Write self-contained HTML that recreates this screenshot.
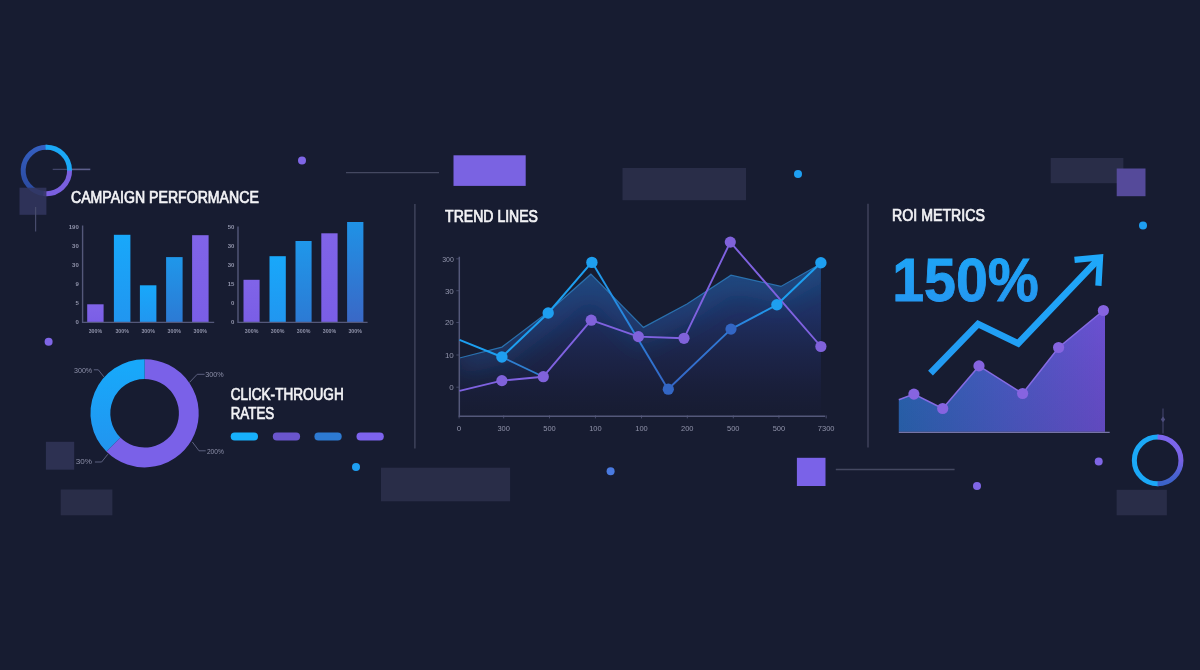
<!DOCTYPE html>
<html lang="en"><head><meta charset="utf-8"><title>Marketing Analytics Dashboard</title>
<style>
html,body{margin:0;padding:0;background:#171c31;}
body{width:1200px;height:670px;overflow:hidden;position:relative;}
svg{display:block;position:absolute;left:0;top:0;filter:blur(.45px)}
text{font-family:"Liberation Sans",Arial,sans-serif}
.t{fill:#f3f3f6;font-size:15.8px;stroke:#f3f3f6;stroke-width:.7px;paint-order:stroke}
.s{fill:#9093aa;font-size:6px;font-weight:bold}
.m{fill:#9093aa;font-size:8px;}
.d{fill:#8d90a9;font-size:7.9px;}
</style></head><body>
<svg width="1200" height="670" viewBox="0 0 1200 670">
<defs>
<linearGradient id="gc" x1="0" y1="0" x2="0" y2="1"><stop offset="0" stop-color="#18a8fa"/><stop offset="1" stop-color="#2196f0"/></linearGradient>
<linearGradient id="gb" x1="0" y1="0" x2="0" y2="1"><stop offset="0" stop-color="#1f97ea"/><stop offset="1" stop-color="#2c7ad4"/></linearGradient>
<linearGradient id="gb2" x1="0" y1="0" x2="0" y2="1"><stop offset="0" stop-color="#1f92e6"/><stop offset="1" stop-color="#3a68c6"/></linearGradient>
<linearGradient id="gp" x1="0" y1="0" x2="0" y2="1"><stop offset="0" stop-color="#8064e8"/><stop offset="1" stop-color="#7a5ee6"/></linearGradient>
<linearGradient id="garea" gradientUnits="userSpaceOnUse" x1="0" y1="262" x2="0" y2="416"><stop offset="0" stop-color="#1e4a82" stop-opacity=".9"/><stop offset=".35" stop-color="#20336c" stop-opacity=".8"/><stop offset=".7" stop-color="#1e2650" stop-opacity=".55"/><stop offset="1" stop-color="#1b1f40" stop-opacity=".08"/></linearGradient>
<filter id="fglow" x="-10%" y="-40%" width="120%" height="180%"><feGaussianBlur stdDeviation="11"/></filter>
<linearGradient id="groi" x1="0" y1="0" x2="1" y2="0"><stop offset="0" stop-color="#2a66b4"/><stop offset=".5" stop-color="#4a5cc6"/><stop offset="1" stop-color="#6c50d2"/></linearGradient>
<linearGradient id="groid" x1="0" y1="0" x2="0" y2="1"><stop offset="0" stop-color="#000" stop-opacity="0"/><stop offset="1" stop-color="#101430" stop-opacity=".12"/></linearGradient>
<linearGradient id="g150" x1="0" y1="0" x2="0" y2="1"><stop offset="0" stop-color="#1ca8f8"/><stop offset="1" stop-color="#2694f0"/></linearGradient>
<linearGradient id="garr" gradientUnits="userSpaceOnUse" x1="930" y1="373" x2="1103" y2="256"><stop offset="0" stop-color="#229af2"/><stop offset="1" stop-color="#1fa8fa"/></linearGradient>
<linearGradient id="gl1" gradientUnits="userSpaceOnUse" x1="592" y1="262" x2="668" y2="389"><stop offset="0" stop-color="#1d9ff0"/><stop offset="1" stop-color="#3566c6"/></linearGradient>
<linearGradient id="gl2" gradientUnits="userSpaceOnUse" x1="668" y1="389" x2="777" y2="305"><stop offset="0" stop-color="#3566c6"/><stop offset=".6" stop-color="#2f7ad6"/><stop offset="1" stop-color="#1d9ff0"/></linearGradient>
<linearGradient id="gring2" gradientUnits="userSpaceOnUse" x1="0" y1="437" x2="0" y2="484"><stop offset="0" stop-color="#7d66ee"/><stop offset=".5" stop-color="#7862e4"/><stop offset=".8" stop-color="#4a62d0"/><stop offset="1" stop-color="#3a62c8"/></linearGradient>
<linearGradient id="gring1" gradientUnits="userSpaceOnUse" x1="30" y1="195" x2="40" y2="146"><stop offset="0" stop-color="#2a489c"/><stop offset="1" stop-color="#3560c2"/></linearGradient>
</defs>
<rect width="1200" height="670" fill="#171c31"/>

<g>
<rect x="453.5" y="155.3" width="72.2" height="30.6" fill="#7a63e2"/>
<rect x="622.5" y="168" width="123.5" height="32.2" fill="#292d48"/>
<rect x="1050.7" y="158" width="72.7" height="25.2" fill="#292d48"/>
<rect x="1116.7" y="168.5" width="28.8" height="27.7" fill="#554a9a"/>
<rect x="1116.6" y="489.8" width="50.3" height="25.5" fill="#292d48"/>
<rect x="796.9" y="457.8" width="28.6" height="28.2" fill="#7a62e8"/>
<rect x="381" y="467.7" width="129.1" height="33.6" fill="#292d48"/>
<rect x="60.7" y="489.5" width="51.7" height="25.8" fill="#292d48"/>
<rect x="45.9" y="441.8" width="28.3" height="27.9" fill="#2d3152"/>
</g>
<g stroke="#444861" stroke-width="1.3" fill="none">
<path d="M346,172.6H439"/>
<path d="M835.8,469.5H954.6"/>
<path d="M52.7,169.4H68" stroke="#41456a"/><path d="M68,169.4H90.3" stroke="#5d5f8c" stroke-width="1.6"/>
<path d="M414.9,204V448.4"/>
<path d="M868,203.8V447.5"/>
<path d="M1163,408.4V433.4" stroke="#3c3f63"/>
</g>
<path d="M1163,416.6l2.2,2.8l-2.2,2.8l-2.2,-2.8z" fill="#4c4c7c"/>
<circle cx="302" cy="160.5" r="4" fill="#7f66e6"/>
<circle cx="48.6" cy="341.8" r="4" fill="#7f66e6"/>
<circle cx="798" cy="174" r="4" fill="#1e9ff2"/>
<circle cx="1143" cy="225.4" r="4" fill="#1e9ff2"/>
<circle cx="356" cy="466.9" r="4" fill="#1e9ff2"/>
<circle cx="610.6" cy="471.3" r="4" fill="#4a7ae0"/>
<circle cx="977" cy="486" r="4" fill="#7f66e6"/>
<circle cx="1098.7" cy="461.4" r="4" fill="#7f66e6"/>
<g fill="none" stroke-width="5">
<path d="M44.38,193.61A23.2,23.2 0 0 1 47.21,147.31" stroke="url(#gring1)"/>
<path d="M69.59,169.69A23.2,23.2 0 0 1 43.57,193.53" stroke="#7a60e0"/>
<path d="M45.59,147.31A23.2,23.2 0 0 1 69.60,170.50" stroke="#1ba8f6"/>
</g>
<rect x="19.5" y="187.7" width="26.9" height="27.1" fill="#32365e" fill-opacity=".86"/><path d="M35.6,207V231.6" stroke="#474b6c" stroke-width="1.2"/>
<g fill="none" stroke-width="5">
<path d="M1158.42,483.79A23.4,23.4 0 1 1 1158.42,437.01" stroke="#1ba8f6"/>
<path d="M1157.60,437.00A23.4,23.4 0 0 1 1157.60,483.80" stroke="url(#gring2)"/>
</g>
<text class="t" x="71" y="203.2" textLength="187.8" lengthAdjust="spacingAndGlyphs">CAMPAIGN PERFORMANCE</text>
<text class="t" x="230.7" y="400.2" textLength="113" lengthAdjust="spacingAndGlyphs">CLICK-THROUGH</text>
<text class="t" x="230.7" y="419.3" textLength="43.6" lengthAdjust="spacingAndGlyphs">RATES</text>
<text class="t" x="445.1" y="221.5" textLength="92.9" lengthAdjust="spacingAndGlyphs">TREND LINES</text>
<text class="t" x="892.1" y="221.4" textLength="92.8" lengthAdjust="spacingAndGlyphs">ROI METRICS</text>
<rect x="87.2" y="304.3" width="16.4" height="17.8" fill="url(#gp)"/>
<rect x="113.9" y="234.8" width="16.5" height="87.3" fill="url(#gc)"/>
<rect x="139.9" y="285.3" width="16.5" height="36.8" fill="url(#gc)"/>
<rect x="166.1" y="257.1" width="16.5" height="65.0" fill="url(#gb)"/>
<rect x="192.1" y="235.2" width="16.5" height="86.9" fill="url(#gp)"/>
<path d="M82.60000000000001,225.5V322.40000000000003H214.2" fill="none" stroke="#54587a" stroke-width="1.4"/>
<text class="s" x="78.8" y="229.2" text-anchor="end">190</text>
<text class="s" x="78.8" y="247.79999999999998" text-anchor="end">30</text>
<text class="s" x="78.8" y="266.7" text-anchor="end">30</text>
<text class="s" x="78.8" y="285.7" text-anchor="end">9</text>
<text class="s" x="78.8" y="304.59999999999997" text-anchor="end">5</text>
<text class="s" x="78.8" y="323.5" text-anchor="end">0</text>
<text class="s" x="95.4" y="332.8" text-anchor="middle" textLength="13.5" lengthAdjust="spacingAndGlyphs">300%</text>
<text class="s" x="122.2" y="332.8" text-anchor="middle" textLength="13.5" lengthAdjust="spacingAndGlyphs">300%</text>
<text class="s" x="148.2" y="332.8" text-anchor="middle" textLength="13.5" lengthAdjust="spacingAndGlyphs">300%</text>
<text class="s" x="174.3" y="332.8" text-anchor="middle" textLength="13.5" lengthAdjust="spacingAndGlyphs">300%</text>
<text class="s" x="200.3" y="332.8" text-anchor="middle" textLength="13.5" lengthAdjust="spacingAndGlyphs">300%</text>
<rect x="243.5" y="279.8" width="16.1" height="42.3" fill="url(#gp)"/>
<rect x="269.5" y="256.2" width="16.3" height="65.9" fill="url(#gc)"/>
<rect x="295.5" y="241.0" width="16.1" height="81.1" fill="url(#gb)"/>
<rect x="321.3" y="233.3" width="16.3" height="88.8" fill="url(#gp)"/>
<rect x="347.1" y="222.0" width="16.3" height="100.1" fill="url(#gb2)"/>
<path d="M238.0,226.5V322.40000000000003H367.6" fill="none" stroke="#54587a" stroke-width="1.4"/>
<text class="s" x="234.4" y="229.2" text-anchor="end">50</text>
<text class="s" x="234.4" y="247.79999999999998" text-anchor="end">30</text>
<text class="s" x="234.4" y="266.7" text-anchor="end">30</text>
<text class="s" x="234.4" y="285.7" text-anchor="end">15</text>
<text class="s" x="234.4" y="304.59999999999997" text-anchor="end">0</text>
<text class="s" x="234.4" y="323.5" text-anchor="end">0</text>
<text class="s" x="251.6" y="332.8" text-anchor="middle" textLength="13.5" lengthAdjust="spacingAndGlyphs">300%</text>
<text class="s" x="277.6" y="332.8" text-anchor="middle" textLength="13.5" lengthAdjust="spacingAndGlyphs">300%</text>
<text class="s" x="303.6" y="332.8" text-anchor="middle" textLength="13.5" lengthAdjust="spacingAndGlyphs">300%</text>
<text class="s" x="329.5" y="332.8" text-anchor="middle" textLength="13.5" lengthAdjust="spacingAndGlyphs">300%</text>
<text class="s" x="355.2" y="332.8" text-anchor="middle" textLength="13.5" lengthAdjust="spacingAndGlyphs">300%</text>
<g fill="none" stroke-width="19.8">
<path d="M144.60,369.10A44.2,44.2 0 1 1 113.35,444.55" stroke="#7a61e8"/>
<path d="M113.35,444.55A44.2,44.2 0 0 1 144.60,369.10" stroke="url(#gc)"/>
</g>
<g fill="none" stroke="#5d6180" stroke-width="1">
<path d="M93.8,369.8H98.3L103.9,376.9"/>
<path d="M204.6,374.3H197.2L189.4,382.5"/>
<path d="M205.7,450.8H199L192.3,441.9"/>
<path d="M94.9,462H101.6L107.9,454.2"/>
</g>
<text class="d" x="74" y="372.9" textLength="18.2" lengthAdjust="spacingAndGlyphs">300%</text>
<text class="d" x="205.3" y="377.3" textLength="18.4" lengthAdjust="spacingAndGlyphs">300%</text>
<text class="d" x="206.9" y="453.9" textLength="17" lengthAdjust="spacingAndGlyphs">200%</text>
<text class="d" x="75.8" y="463.9" textLength="16.2" lengthAdjust="spacingAndGlyphs">30%</text>
<rect x="230.7" y="432.5" width="27.3" height="8" rx="4" fill="#17b0fb"/>
<rect x="272.8" y="432.5" width="27.3" height="8" rx="4" fill="#6a55cc"/>
<rect x="314.4" y="432.5" width="27.3" height="8" rx="4" fill="#2d7ad2"/>
<rect x="356.5" y="432.5" width="27.3" height="8" rx="4" fill="#7d63ee"/>
<clipPath id="carea"><path d="M459.5,358L501.9,347.1L548.2,312L590.9,274.2L643.4,327.4L687,304L731,275.2L780.9,286.4L820.9,263.7L820.9,415.4L459.5,415.4Z"/></clipPath>
<path d="M459.5,358L501.9,347.1L548.2,312L590.9,274.2L643.4,327.4L687,304L731,275.2L780.9,286.4L820.9,263.7L820.9,415.4L459.5,415.4Z" fill="url(#garea)"/>
<g clip-path="url(#carea)"><path d="M459.5,358L501.9,347.1L548.2,312L590.9,274.2L643.4,327.4L687,304L731,275.2L780.9,286.4L820.9,263.7" fill="none" stroke="#2062a2" stroke-width="34" stroke-opacity=".26" filter="url(#fglow)"/></g>
<path d="M459.5,358L501.9,347.1L548.2,312L590.9,274.2L643.4,327.4L687,304L731,275.2L780.9,286.4L820.9,263.7" fill="none" stroke="#2b78b8" stroke-width="1.2" stroke-opacity=".9"/>
<path d="M459.3,256.7V416.2H825.2" fill="none" stroke="#54587a" stroke-width="1.5"/>
<text class="m" x="453.8" y="261.7" text-anchor="end" textLength="11.6" lengthAdjust="spacingAndGlyphs">300</text>
<path d="M459.3,258.8h-3" stroke="#54587a" stroke-width="1" stroke-opacity=".7"/>
<text class="m" x="453.8" y="293.59999999999997" text-anchor="end">30</text>
<path d="M459.3,290.7h-3" stroke="#54587a" stroke-width="1" stroke-opacity=".7"/>
<text class="m" x="453.8" y="325.4" text-anchor="end">20</text>
<path d="M459.3,322.5h-3" stroke="#54587a" stroke-width="1" stroke-opacity=".7"/>
<text class="m" x="453.8" y="357.9" text-anchor="end">10</text>
<path d="M459.3,355h-3" stroke="#54587a" stroke-width="1" stroke-opacity=".7"/>
<text class="m" x="453.8" y="390.09999999999997" text-anchor="end">0</text>
<path d="M459.3,387.2h-3" stroke="#54587a" stroke-width="1" stroke-opacity=".7"/>
<text class="m" x="459.1" y="431" text-anchor="middle">0</text>
<path d="M459.1,415.4v3" stroke="#54587a" stroke-width="1" stroke-opacity=".8"/>
<text class="m" x="503.7" y="431" text-anchor="middle" textLength="12.5" lengthAdjust="spacingAndGlyphs">300</text>
<path d="M503.7,415.4v3" stroke="#54587a" stroke-width="1" stroke-opacity=".8"/>
<text class="m" x="549.5" y="431" text-anchor="middle" textLength="12.5" lengthAdjust="spacingAndGlyphs">500</text>
<path d="M549.5,415.4v3" stroke="#54587a" stroke-width="1" stroke-opacity=".8"/>
<text class="m" x="595.4" y="431" text-anchor="middle" textLength="12.5" lengthAdjust="spacingAndGlyphs">100</text>
<path d="M595.4,415.4v3" stroke="#54587a" stroke-width="1" stroke-opacity=".8"/>
<text class="m" x="641.5" y="431" text-anchor="middle" textLength="12.5" lengthAdjust="spacingAndGlyphs">100</text>
<path d="M641.5,415.4v3" stroke="#54587a" stroke-width="1" stroke-opacity=".8"/>
<text class="m" x="687.3" y="431" text-anchor="middle" textLength="12.5" lengthAdjust="spacingAndGlyphs">200</text>
<path d="M687.3,415.4v3" stroke="#54587a" stroke-width="1" stroke-opacity=".8"/>
<text class="m" x="733.3" y="431" text-anchor="middle" textLength="12.5" lengthAdjust="spacingAndGlyphs">500</text>
<path d="M733.3,415.4v3" stroke="#54587a" stroke-width="1" stroke-opacity=".8"/>
<text class="m" x="778.9" y="431" text-anchor="middle" textLength="12.5" lengthAdjust="spacingAndGlyphs">500</text>
<path d="M778.9,415.4v3" stroke="#54587a" stroke-width="1" stroke-opacity=".8"/>
<text class="m" x="826.2" y="431" text-anchor="middle" textLength="16.7" lengthAdjust="spacingAndGlyphs">7300</text>
<path d="M826.2,415.4v3" stroke="#54587a" stroke-width="1" stroke-opacity=".8"/>
<path d="M501.9,357L543.3,376.7" stroke="#2f7fd0" stroke-width="1.8" fill="none"/>
<path d="M459.5,390.8L501.9,380.6L543.3,376.7L591.2,320.2L638.4,336.6L684,338.3L730.3,242.1L820.9,346.5" fill="none" stroke="#7f62e0" stroke-width="1.9" stroke-linejoin="round"/>
<path d="M459.5,339.9L501.9,357L548.2,313L591.9,262.1" fill="none" stroke="#1d9ff0" stroke-width="2" stroke-linejoin="round"/>
<path d="M591.9,262.1L668,389.2" fill="none" stroke="url(#gl1)" stroke-width="1.9"/>
<path d="M668,389.2L731,329.1L776.9,304.8" fill="none" stroke="url(#gl2)" stroke-width="1.9" stroke-linejoin="round"/>
<path d="M776.9,304.8L820.9,262.8" fill="none" stroke="#1d9ff0" stroke-width="2"/>
<circle cx="501.9" cy="380.6" r="5.6" fill="#8062da"/>
<circle cx="543.3" cy="376.7" r="5.6" fill="#8062da"/>
<circle cx="591.2" cy="320.2" r="5.6" fill="#8062da"/>
<circle cx="638.4" cy="336.6" r="5.6" fill="#8062da"/>
<circle cx="684" cy="338.3" r="5.6" fill="#8062da"/>
<circle cx="730.3" cy="242.1" r="5.6" fill="#8062da"/>
<circle cx="820.9" cy="346.5" r="5.6" fill="#8062da"/>
<circle cx="668.3" cy="389.2" r="5.6" fill="#3366c4"/>
<circle cx="731" cy="329.1" r="5.6" fill="#3366c4"/>
<circle cx="501.9" cy="357" r="5.7" fill="#1e9ff0"/>
<circle cx="548.2" cy="313" r="5.7" fill="#1e9ff0"/>
<circle cx="591.9" cy="262.4" r="5.7" fill="#1e9ff0"/>
<circle cx="776.9" cy="304.8" r="5.7" fill="#1e9ff0"/>
<circle cx="820.9" cy="262.8" r="5.7" fill="#1e9ff0"/>
<text x="892.2" y="300.7" font-size="62" font-weight="bold" fill="url(#g150)" stroke="url(#g150)" stroke-width=".9" textLength="146.6" lengthAdjust="spacingAndGlyphs">150%</text>
<path d="M898.8,399.8L913.9,394.1L942.7,408.5L979,365.9L1022.6,393.5L1058.6,347.5L1103.4,310.5L1105,310.5L1105,431.8L898.8,431.8Z" fill="url(#groi)"/>
<path d="M898.8,399.8L913.9,394.1L942.7,408.5L979,365.9L1022.6,393.5L1058.6,347.5L1103.4,310.5L1105,310.5L1105,431.8L898.8,431.8Z" fill="url(#groid)"/>
<path d="M898.8,399.8L913.9,394.1L942.7,408.5L979,365.9L1022.6,393.5L1058.6,347.5L1103.4,310.5" fill="none" stroke="#8a6ee8" stroke-width="1.5" stroke-opacity=".95"/>
<path d="M898.8,432.3H1109.7" stroke="#7674a6" stroke-width="1.3"/>
<circle cx="913.9" cy="394.1" r="5.6" fill="#8664e0"/>
<circle cx="942.7" cy="408.5" r="5.6" fill="#8664e0"/>
<circle cx="979" cy="365.9" r="5.6" fill="#8664e0"/>
<circle cx="1022.6" cy="393.5" r="5.6" fill="#8664e0"/>
<circle cx="1058.6" cy="347.5" r="5.6" fill="#8664e0"/>
<circle cx="1103.4" cy="310.5" r="5.6" fill="#8664e0"/>
<path d="M930.5,373.1L978.1,324L1018.2,343.4L1100,257.6" fill="none" stroke="url(#garr)" stroke-width="6.7" stroke-linejoin="miter"/>
<path d="M1074.5,259.9L1100,257.4L1098.4,285.7" fill="none" stroke="#1fa8fa" stroke-width="6.3" stroke-linejoin="miter"/>
</svg>
</body></html>
